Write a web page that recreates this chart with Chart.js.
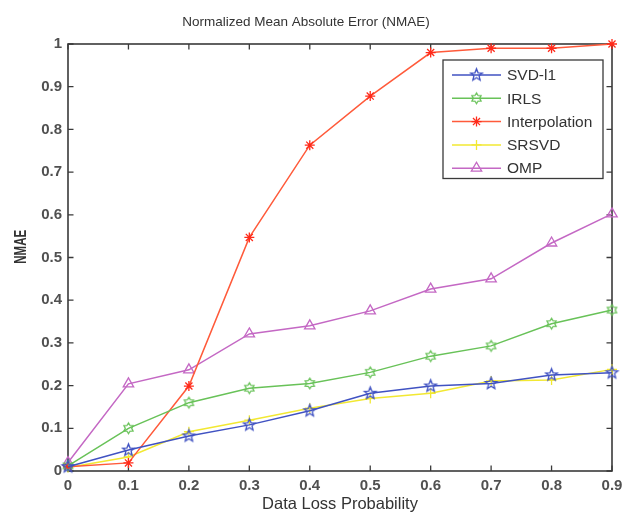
<!DOCTYPE html>
<html>
<head>
<meta charset="utf-8">
<script src="https://cdn.jsdelivr.net/npm/chart.js@4.4.1/dist/chart.umd.min.js"></script>
<style>
    html, body { margin: 0; padding: 0; background: #fff; }
    #wrap { width: 622px; height: 515px; }
</style>
</head>
<body>
<div id="wrap"><canvas id="nmaeChart" width="622" height="515"></canvas></div>
<script>
// loss probabilities on the x axis
var lossProb = [0, 0.1, 0.2, 0.3, 0.4, 0.5, 0.6, 0.7, 0.8, 0.9];

// NMAE per method
var svdL1 = [0.010, 0.049, 0.082, 0.108, 0.141, 0.182, 0.199, 0.205, 0.225, 0.230];
var irls = [0.012, 0.100, 0.160, 0.194, 0.205, 0.231, 0.269, 0.293, 0.345, 0.377];
var interpolation = [0.010, 0.019, 0.199, 0.547, 0.763, 0.878, 0.980, 0.990, 0.990, 1.000];
var srsvd = [0.008, 0.033, 0.092, 0.119, 0.147, 0.170, 0.182, 0.211, 0.213, 0.238];
var omp = [0.020, 0.204, 0.237, 0.321, 0.340, 0.375, 0.426, 0.450, 0.534, 0.602];

var seriesNames = ["SVD-l1", "IRLS", "Interpolation", "SRSVD", "OMP"];
var yTicks = [0, 0.1, 0.2, 0.3, 0.4, 0.5, 0.6, 0.7, 0.8, 0.9, 1];

var axisColor = "#3a3a3a";
var textColor = "#333333";
var tickColor = "#505050";
var fontFamily = "'Liberation Sans', Arial, sans-serif";

// star shaped markers drawn on small canvases
function starMarker(points, outer, inner, color) {
    var size = Math.ceil(outer * 2 + 4);
    var c = document.createElement("canvas");
    c.width = size;
    c.height = size;
    var g = c.getContext("2d");
    g.strokeStyle = color;
    g.lineWidth = 1.3;
    g.beginPath();
    for (var i = 0; i < points * 2; i++) {
        var r = (i % 2 === 0) ? outer : inner;
        var a = -Math.PI / 2 + i * Math.PI / points;
        var px = size / 2 + r * Math.cos(a);
        var py = size / 2 + r * Math.sin(a);
        if (i === 0) g.moveTo(px, py); else g.lineTo(px, py);
    }
    g.closePath();
    g.stroke();
    return c;
}

var blue = "#4052c2";
var green = "#68c258";
var red = "#ff5a3a";
var yellow = "#f2e832";
var purple = "#c468c4";

var pentagram = starMarker(5, 6.2, 2.7, blue);
var hexagram = starMarker(6, 5.3, 3.2, green);

function toPoints(values) {
    var pts = [];
    for (var i = 0; i < lossProb.length; i++) {
        pts.push({ x: lossProb[i], y: values[i] });
    }
    return pts;
}

function makeSet(label, values, color, style, radius, markColor) {
    return {
        label: label,
        data: toPoints(values),
        borderColor: color,
        backgroundColor: "rgba(0,0,0,0)",
        borderWidth: 1.5,
        pointStyle: style,
        pointRadius: radius,
        pointBorderColor: markColor || color,
        pointBackgroundColor: "rgba(0,0,0,0)",
        pointBorderWidth: 1.3,
        tension: 0,
        clip: false
    };
}

var datasets = [
    makeSet(seriesNames[0], svdL1, blue, pentagram, 6),
    makeSet(seriesNames[1], irls, green, hexagram, 6),
    makeSet(seriesNames[2], interpolation, red, "star", 5, "#ff2a1a"),
    makeSet(seriesNames[3], srsvd, yellow, "cross", 5),
    makeSet(seriesNames[4], omp, purple, "triangle", 6)
];

// box around the plot with inward ticks on all four sides
var boxTicks = {
    id: "boxTicks",
    beforeDatasetsDraw: function(chart) {
        var ctx = chart.ctx;
        var area = chart.chartArea;
        var xs = chart.scales.x;
        var ys = chart.scales.y;
        var len = 5.5;
        ctx.save();
        ctx.strokeStyle = axisColor;
        ctx.lineWidth = 1.6;
        ctx.strokeRect(area.left, area.top, area.right - area.left, area.bottom - area.top);
        ctx.lineWidth = 1.3;
        ctx.beginPath();
        xs.ticks.forEach(function(t) {
            var px = xs.getPixelForValue(t.value);
            ctx.moveTo(px, area.bottom);
            ctx.lineTo(px, area.bottom - len);
            ctx.moveTo(px, area.top);
            ctx.lineTo(px, area.top + len);
        });
        ys.ticks.forEach(function(t) {
            var py = ys.getPixelForValue(t.value);
            ctx.moveTo(area.left, py);
            ctx.lineTo(area.left + len, py);
            ctx.moveTo(area.right, py);
            ctx.lineTo(area.right - len, py);
        });
        ctx.stroke();
        ctx.restore();
    }
};

// narrow, tall "NMAE" label beside the y axis
var yLabel = {
    id: "yLabel",
    afterDraw: function(chart) {
        var ctx = chart.ctx;
        var ys = chart.scales.y;
        ctx.save();
        ctx.translate(22, ys.getPixelForValue(0.525));
        ctx.rotate(-Math.PI / 2);
        ctx.scale(0.72, 1);
        ctx.font = "bold 16px " + fontFamily;
        ctx.fillStyle = textColor;
        ctx.textAlign = "center";
        ctx.textBaseline = "middle";
        ctx.fillText("NMAE", 0, 0);
        ctx.restore();
    }
};

// line-and-marker legend in the upper right corner
var sampleLegend = {
    id: "sampleLegend",
    afterDraw: function(chart) {
        var ctx = chart.ctx;
        var area = chart.chartArea;
        var right = area.right - 9;
        var left = right - 160;
        var top = area.top + 16;
        var rowH = 23.3;
        var height = rowH * datasets.length + 2;
        ctx.save();
        ctx.fillStyle = "#fff";
        ctx.fillRect(left, top, right - left, height);
        ctx.strokeStyle = axisColor;
        ctx.lineWidth = 1.3;
        ctx.strokeRect(left, top, right - left, height);
        ctx.font = "15.5px " + fontFamily;
        ctx.textBaseline = "middle";
        chart.data.datasets.forEach(function(ds, i) {
            var cy = top + 15 + i * rowH;
            var x0 = left + 9;
            var x1 = left + 58;
            ctx.strokeStyle = ds.borderColor;
            ctx.lineWidth = 1.5;
            ctx.beginPath();
            ctx.moveTo(x0, cy);
            ctx.lineTo(x1, cy);
            ctx.stroke();
            ctx.strokeStyle = ds.pointBorderColor;
            ctx.fillStyle = "rgba(0,0,0,0)";
            ctx.lineWidth = ds.pointBorderWidth;
            Chart.helpers.drawPoint(ctx, {
                pointStyle: ds.pointStyle,
                radius: ds.pointRadius,
                rotation: 0,
                borderWidth: ds.pointBorderWidth
            }, (x0 + x1) / 2, cy);
            ctx.fillStyle = textColor;
            ctx.fillText(ds.label, x1 + 6, cy + 1);
        });
        ctx.restore();
    }
};

var ctx = document.getElementById("nmaeChart").getContext("2d");
var chart = new Chart(ctx, {
    type: "line",
    data: { datasets: datasets },
    plugins: [boxTicks, yLabel, sampleLegend],
    options: {
        responsive: false,
        animation: false,
        layout: { padding: { left: 0, right: 10, top: 0, bottom: 1 } },
        plugins: {
            legend: { display: false },
            tooltip: { enabled: false },
            title: {
                display: true,
                text: "Normalized Mean Absolute Error (NMAE)",
                color: textColor,
                font: { family: fontFamily, size: 13.5, weight: "normal" },
                padding: { top: 14, bottom: 13.8 }
            }
        },
        scales: {
            x: {
                type: "linear",
                min: 0,
                max: 0.9,
                grid: { display: false, drawTicks: false },
                border: { display: false },
                afterFit: function(scale) {
                    scale.height = 43;
                    scale.paddingRight = 0;
                    scale.paddingLeft = 0;
                },
                afterBuildTicks: function(scale) {
                    scale.ticks = lossProb.map(function(v) { return { value: v }; });
                },
                ticks: {
                    color: tickColor,
                    padding: 6,
                    font: { family: fontFamily, size: 15, weight: "bold" },
                    maxRotation: 0,
                    callback: function(v) { return String(Math.round(v * 10) / 10); }
                },
                title: {
                    display: true,
                    text: "Data Loss Probability",
                    color: textColor,
                    font: { family: fontFamily, size: 16.5 },
                    padding: { top: 0, bottom: 0 }
                }
            },
            y: {
                min: 0,
                max: 1,
                grid: { display: false, drawTicks: false },
                border: { display: false },
                afterFit: function(scale) {
                    scale.width = 68;
                    scale.paddingTop = 0;
                    scale.paddingBottom = 0;
                },
                afterBuildTicks: function(scale) {
                    scale.ticks = yTicks.map(function(v) { return { value: v }; });
                },
                ticks: {
                    color: tickColor,
                    padding: 6,
                    font: { family: fontFamily, size: 15, weight: "bold" },
                    callback: function(v) { return String(Math.round(v * 10) / 10); }
                }
            }
        }
    }
});
</script>
</body>
</html>
